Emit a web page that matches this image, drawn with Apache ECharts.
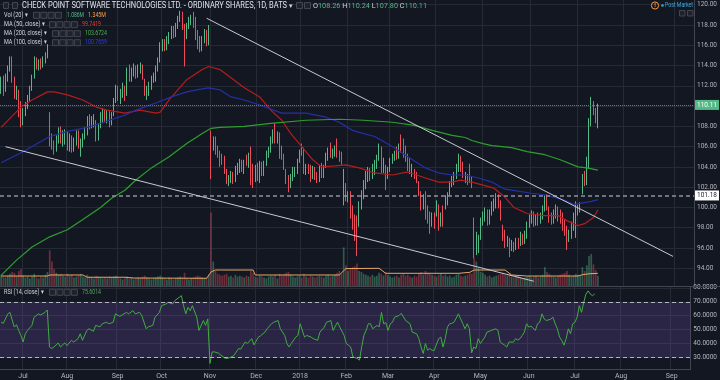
<!DOCTYPE html>
<html>
<head>
<meta charset="utf-8">
<script src="https://cdn.jsdelivr.net/npm/echarts@6/dist/echarts.min.js"></script>
<style>
html,body{margin:0;padding:0;background:#131722;overflow:hidden}
#chart{width:720px;height:380px}
</style>
</head>
<body>
<div id="chart"></div>
<script>
// ---------------- data ----------------
const firstSession = '2017-06-19';
const marketHolidays = ['2017-07-04','2017-09-04','2017-11-23','2017-12-25','2018-01-01','2018-01-15','2018-02-19','2018-03-30','2018-05-28','2018-07-04','2018-09-03'];
const slotCount = 314;

const opens = [
111.5,112.6,111.6,112.6,113.6,114.6,112.6,111.0,111.4,110.3,
108.4,109.3,110.0,110.7,111.7,112.9,114.5,113.8,114.4,114.0,
114.5,114.9,108.9,106.8,106.3,105.7,106.6,107.7,106.3,107.0,
107.2,105.9,106.8,105.9,106.4,107.3,105.4,106.2,107.0,107.4,
108.9,108.0,108.2,108.4,106.8,108.0,108.6,109.4,108.6,109.2,
108.4,109.2,110.5,111.8,110.5,111.0,111.8,111.2,113.8,112.7,
113.2,113.8,113.0,113.5,113.9,112.5,111.0,111.3,111.8,112.5,
112.6,113.6,114.5,115.7,116.3,115.7,116.4,116.8,117.6,117.0,
117.8,118.5,119.0,117.9,116.9,117.8,118.3,119.1,118.4,117.2,
116.7,115.6,116.5,117.3,116.2,107.0,105.9,106.8,105.8,105.4,
105.0,104.9,103.6,102.4,102.6,103.3,102.7,103.5,103.7,104.4,
103.6,104.9,104.2,105.7,104.0,102.7,104.1,102.7,104.2,103.4,
104.3,105.1,105.6,106.5,107.7,106.5,107.2,105.8,105.1,103.5,
103.0,102.2,102.9,103.2,103.6,104.6,106.0,105.7,103.5,104.0,
104.0,103.0,103.8,103.3,102.8,104.2,103.1,104.1,104.8,106.1,
105.1,105.3,105.9,105.4,105.2,101.4,102.0,100.8,101.4,100.0,
99.0,99.0,98.4,100.0,101.0,102.0,102.7,103.6,103.0,103.4,
104.0,104.8,105.7,103.7,104.0,103.0,103.7,104.5,104.8,105.8,
105.0,106.5,106.6,105.9,105.0,104.7,103.2,103.5,103.3,102.4,
101.4,100.0,101.4,100.0,99.4,98.4,99.2,99.4,100.0,98.4,
100.0,100.0,100.5,101.4,102.2,102.5,103.0,103.7,104.8,104.2,
102.6,103.0,103.7,102.8,98.7,95.8,96.3,97.0,98.5,98.8,
99.5,98.5,99.4,99.8,100.1,101.0,100.4,98.0,97.5,96.3,
96.8,95.9,96.4,96.0,96.8,96.4,97.2,96.6,97.1,98.2,
98.6,99.4,98.4,99.2,98.6,99.0,99.8,101.0,99.9,99.3,
98.7,99.1,99.9,99.6,99.3,98.6,98.0,96.8,97.1,98.0,
97.2,99.4,99.7,101.5,103.4,102.4,104.0,108.3,110.1,109.6,
108.26];

const closes = [
112.5,111.4,112.6,113.6,114.6,112.6,111.0,111.6,109.2,108.2,
109.4,110.2,110.8,111.8,112.8,114.6,113.9,114.3,113.9,114.6,
115.0,115.8,106.5,106.0,105.6,106.8,107.6,106.5,107.3,107.4,
105.9,107.0,105.8,106.6,107.3,106.1,106.5,107.1,107.6,108.8,
108.0,108.7,108.9,106.8,108.0,109.2,109.5,108.7,109.3,108.2,
109.1,110.6,111.9,110.7,111.4,112.0,110.8,113.5,112.7,113.5,
113.9,113.0,113.8,114.0,112.8,111.3,111.8,112.2,112.7,113.0,
113.8,114.6,116.0,116.3,115.7,116.6,117.0,117.6,117.0,117.9,
118.6,119.2,117.8,116.8,117.9,118.5,118.8,118.0,116.8,115.9,
115.6,116.6,117.4,116.2,117.6,103.2,106.8,105.5,105.2,104.3,
104.5,103.6,102.6,103.0,103.3,102.6,103.9,104.2,104.5,103.8,
104.4,104.4,105.1,103.8,102.2,103.9,102.9,104.3,103.4,104.3,
105.3,105.8,106.7,107.4,106.6,107.2,105.1,105.0,104.0,102.6,
102.0,103.0,103.8,103.7,104.6,105.4,105.4,103.6,104.0,103.6,
102.8,103.8,103.0,102.7,104.0,103.2,104.0,105.2,105.6,105.2,
105.5,105.9,105.1,104.8,104.5,103.5,101.0,101.3,99.2,98.1,
97.7,97.7,100.3,101.4,102.4,103.4,103.7,102.9,104.0,104.4,
105.0,106.0,103.7,104.6,103.0,103.8,104.7,105.0,105.4,105.0,
106.0,105.7,105.2,104.8,103.9,103.6,104.0,103.0,102.7,101.4,
100.0,101.0,99.1,98.7,98.3,99.2,98.2,100.4,98.0,99.2,
98.4,101.0,101.2,102.4,102.9,103.2,104.0,104.9,103.8,103.2,
103.2,102.5,102.7,102.2,95.6,97.2,96.9,98.8,99.3,99.8,
98.5,99.5,100.4,100.6,101.2,100.2,99.0,97.0,96.3,96.9,
95.8,96.5,95.9,96.8,96.1,97.4,96.5,97.4,98.4,99.0,
99.4,98.4,99.0,98.5,99.2,99.9,101.0,100.0,98.8,98.6,
99.5,100.0,98.9,98.7,98.0,97.5,96.6,97.5,98.4,99.2,
100.3,100.0,100.2,103.0,102.4,104.7,108.5,110.6,109.4,108.5,
110.11];

const lows = [
111.2,111.0,111.4,112.4,113.4,112.3,110.7,110.6,108.9,107.9,
108.1,109.0,109.7,110.5,111.5,112.7,113.6,113.5,113.6,113.8,
114.2,114.7,106.0,105.7,105.2,105.5,106.3,106.3,106.0,106.2,
105.6,105.5,105.4,105.5,106.1,105.8,105.0,105.9,106.7,107.1,
107.7,107.8,107.9,106.5,106.6,107.8,108.3,108.4,108.3,107.9,
108.1,109.0,110.3,110.5,110.2,110.8,110.5,111.0,112.4,112.4,
112.9,112.7,112.8,113.2,112.6,111.0,110.6,111.0,111.6,112.3,
112.4,113.4,114.3,115.4,115.4,115.5,116.1,116.6,116.7,116.8,
117.6,118.3,117.5,113.9,116.6,117.6,118.0,117.7,116.5,115.6,
115.3,115.4,116.2,115.9,116.0,102.8,105.6,105.2,104.9,104.0,
104.2,103.3,102.3,102.1,102.4,102.3,102.5,103.2,103.4,103.5,
103.3,104.1,103.9,102.2,101.9,102.5,102.6,102.4,103.1,103.1,
104.1,104.9,105.4,106.3,106.3,106.3,104.8,104.7,103.7,102.3,
101.5,101.9,102.6,103.0,103.3,104.4,105.1,103.3,103.2,103.3,
102.5,102.8,102.7,102.4,102.5,102.9,102.9,103.9,104.6,104.9,
104.8,105.0,104.9,104.5,104.2,100.2,100.6,100.5,98.9,97.8,
96.7,95.2,98.1,99.8,100.8,101.8,102.5,102.6,102.8,103.2,
103.8,104.6,103.4,103.4,101.7,102.8,103.5,104.3,104.6,104.7,
104.8,105.4,104.9,104.5,103.6,103.3,103.0,102.8,102.4,101.1,
99.7,99.8,98.8,98.4,97.4,98.1,97.9,99.1,97.7,98.1,
98.1,99.8,100.2,101.2,102.0,102.2,102.8,103.5,103.5,102.9,
102.4,102.2,102.4,101.9,95.0,95.3,95.5,96.8,98.2,98.6,
98.2,98.3,99.2,99.6,99.9,99.9,98.7,96.7,96.0,96.1,
95.1,95.7,95.6,95.8,95.9,96.2,96.3,96.4,96.9,98.0,
98.4,98.1,98.2,98.2,98.4,98.8,99.6,99.7,98.5,98.3,
98.4,98.9,98.6,98.4,97.7,97.2,95.8,96.6,96.9,97.7,
97.0,99.2,99.5,101.3,102.1,102.2,103.8,108.0,109.1,108.3,
107.80];

const highs = [
112.9,113.0,113.2,114.0,114.9,114.9,112.9,112.0,111.6,110.5,
109.8,110.4,111.1,112.0,113.1,114.9,114.8,114.6,114.7,114.9,
115.3,116.1,109.4,107.3,106.6,107.1,107.9,108.0,107.6,107.7,
107.5,107.3,107.1,106.9,107.6,107.6,106.8,107.3,107.9,109.0,
109.2,109.0,109.2,108.6,108.3,109.4,109.8,109.7,109.6,109.5,
109.4,110.8,112.1,112.0,111.7,112.3,112.0,113.8,114.1,113.8,
114.2,114.0,114.1,114.3,114.1,112.7,112.0,112.4,113.0,113.3,
114.0,114.8,116.3,116.6,116.6,116.9,117.3,117.9,117.9,118.2,
118.9,119.4,119.3,118.1,118.2,118.8,119.0,119.3,118.8,117.5,
116.9,116.9,117.6,117.5,118.0,107.6,107.0,107.0,106.1,105.6,
105.3,105.1,103.8,103.2,103.6,103.5,104.1,104.4,104.8,104.7,
104.7,105.2,105.4,106.0,104.3,104.2,104.4,104.6,104.5,104.6,
105.6,106.0,107.0,107.7,108.3,107.5,107.4,106.1,105.3,103.8,
103.2,103.3,104.0,104.0,104.8,105.7,106.3,105.9,104.3,104.3,
104.2,104.1,104.0,103.5,104.2,104.4,104.2,105.4,105.9,106.4,
105.8,106.1,106.8,105.6,105.5,103.8,102.4,101.6,101.6,100.2,
99.3,99.2,100.6,101.7,102.7,103.6,104.0,103.9,104.3,104.7,
105.2,106.3,106.0,104.9,104.2,104.0,104.9,105.3,105.6,106.0,
106.3,107.2,106.8,106.1,105.3,104.9,104.3,103.8,103.5,102.6,
101.6,101.3,101.6,100.2,99.6,99.5,99.5,100.7,100.3,99.5,
100.2,101.2,101.5,102.6,103.1,103.5,104.3,105.3,105.1,104.5,
103.5,103.3,104.3,103.0,99.0,97.6,97.3,99.0,99.6,100.0,
99.8,99.8,100.6,100.9,101.4,101.3,100.7,98.3,97.8,97.2,
97.0,96.8,96.6,97.0,97.0,97.6,97.4,97.7,98.6,99.3,
99.7,99.6,99.3,99.5,99.5,100.2,101.2,101.3,100.1,99.5,
99.8,100.3,100.1,99.8,99.5,98.8,98.2,97.8,98.6,99.5,
100.6,100.3,100.5,103.3,103.6,105.0,108.8,110.9,110.5,109.8,
110.24];

// volume in millions of shares
const volumes = [
1.2,1.0,0.9,1.1,1.3,1.5,1.4,1.0,1.6,1.8,
1.1,0.9,1.0,0.8,1.0,1.3,0.9,0.8,1.0,0.9,
1.2,1.5,3.8,2.6,1.8,1.4,1.2,1.3,1.1,1.0,
1.3,1.1,1.2,0.9,1.0,1.1,1.3,1.0,0.9,1.2,
1.0,0.9,0.8,1.1,1.0,0.9,0.8,0.9,0.8,1.0,
0.9,1.0,1.1,0.9,0.8,0.7,0.9,1.0,0.8,0.9,
0.7,0.8,0.9,0.8,1.0,1.1,0.9,0.8,0.7,0.8,
0.9,1.0,1.1,0.9,0.8,0.7,0.9,0.8,0.7,0.8,
0.9,1.0,0.9,1.4,0.8,0.7,0.8,0.9,1.0,1.1,
1.0,0.9,0.8,0.9,1.2,7.8,2.6,1.6,1.3,1.2,
1.1,1.2,1.3,1.0,1.1,0.9,1.2,1.0,1.1,1.0,
0.9,1.1,1.0,1.6,1.4,1.0,0.9,1.1,1.0,0.9,
0.8,1.0,1.1,1.0,1.2,0.8,1.3,1.1,1.2,1.4,
1.5,1.2,1.0,0.9,1.0,1.1,0.9,1.3,1.0,0.9,
1.1,1.0,0.9,1.0,1.1,1.0,0.9,1.1,1.2,1.0,
1.1,1.2,1.4,1.6,1.3,4.1,2.2,1.6,1.9,2.0,
2.1,2.4,1.6,1.5,1.3,1.2,1.1,1.0,1.2,1.0,
1.1,1.4,1.3,1.1,1.5,1.2,1.0,0.9,1.0,1.1,
0.9,1.2,1.3,1.1,1.2,1.0,0.9,1.1,1.0,1.3,
1.5,1.2,1.6,1.4,1.3,1.2,1.1,1.0,1.2,1.3,
1.1,1.2,1.0,1.1,0.9,1.0,1.2,1.3,1.1,1.0,
1.1,1.2,1.4,1.3,3.0,2.6,1.9,1.5,1.4,1.2,
1.0,1.1,0.9,1.0,1.1,1.2,1.3,1.4,1.2,1.1,
1.3,1.0,0.9,1.0,1.1,0.9,0.8,0.9,1.0,1.1,
0.9,1.0,1.1,0.9,1.0,1.2,2.0,1.5,1.3,1.1,
1.0,0.9,1.1,1.2,1.3,1.4,1.6,1.2,1.0,1.1,
1.3,1.2,1.1,2.0,1.6,2.2,3.2,3.4,2.3,1.7,
1.086];

// [bar index, value]
const volumeAvg20 = [[0,1.06],[21,1.06],[22,1.17],[37,1.17],[39,0.93],[56,0.93],[60,0.85],[93,0.82],[95,1.5],[97,1.7],[114,1.7],[115,1.17],[153,1.17],[156,1.85],[171,1.88],[174,1.35],[207,1.35],[212,1.45],[214,1.7],[228,1.7],[231,1.17],[238,1.06],[261,1.06],[263,1.2],[266,1.3],[270,1.345]];

const ma50 = [[0,107.9],[9,109.9],[14,110.6],[21,111.4],[24,111.4],[30,111.1],[37,110.6],[43,109.9],[48,109.6],[56,109.3],[63,109.6],[70,109.3],[72,109.4],[76,110.6],[84,112.6],[91,113.6],[94,113.9],[99,113.6],[104,112.8],[110,111.8],[117,110.9],[122,109.6],[127,108.6],[131,107.3],[136,106.0],[141,104.7],[145,104.0],[151,104.1],[156,104.2],[162,103.9],[169,103.4],[177,103.2],[184,103.5],[192,102.9],[198,102.5],[204,102.5],[208,102.7],[213,102.5],[218,102.2],[223,101.9],[228,101.0],[232,100.0],[238,99.4],[246,99.2],[252,99.2],[256,98.7],[261,98.2],[264,98.4],[268,99.0],[270,99.7419]];

const ma100 = [[0,104.4],[9,105.4],[14,106.0],[22,107.0],[30,107.5],[39,107.9],[45,108.3],[56,109.1],[61,109.6],[70,110.3],[77,110.9],[84,111.4],[91,111.7],[94,111.8],[99,111.6],[104,110.9],[110,110.6],[117,110.1],[127,109.3],[138,109.3],[147,108.9],[153,108.4],[159,107.6],[162,107.4],[169,107.0],[177,106.0],[184,105.0],[192,103.9],[198,103.4],[204,103.2],[210,103.2],[216,102.9],[222,102.5],[228,101.8],[240,101.4],[247,101.2],[255,100.7],[259,100.3],[262,100.4],[267,100.6],[270,100.7659]];

const ma200 = [[0,93.3],[7,94.8],[14,96.1],[22,97.1],[30,97.8],[37,98.8],[45,100.0],[50,100.9],[56,101.7],[61,102.7],[68,103.9],[76,105.0],[84,106.3],[91,107.3],[95,107.8],[99,107.9],[110,108.0],[122,108.3],[138,108.6],[153,108.7],[164,108.6],[177,108.4],[187,108.1],[195,107.6],[204,107.1],[210,106.9],[213,106.6],[218,106.3],[222,106.1],[231,105.9],[238,105.5],[246,105.2],[253,104.7],[261,104.0],[265,103.9],[270,103.6724]];

const rsi14 = [[0,55.3],[1,54.5],[3,61.2],[4,62.4],[6,51.8],[7,53.5],[8,49.4],[9,45.8],[10,41.1],[11,47.0],[12,49.4],[14,53.0],[15,58.9],[17,61.3],[18,60.5],[20,62.4],[21,64.1],[22,37.5],[23,36.4],[24,37.5],[26,40.4],[27,37.5],[29,40.5],[30,38.5],[32,42.3],[33,41.0],[35,43.5],[36,47.0],[37,42.3],[39,49.4],[40,50.6],[42,48.8],[43,53.0],[45,52.0],[46,54.2],[48,55.3],[49,54.2],[51,55.3],[52,61.3],[54,59.5],[55,60.5],[57,62.4],[58,61.3],[60,63.6],[61,61.3],[63,62.4],[64,60.0],[66,50.6],[67,52.0],[69,53.0],[70,58.9],[72,62.4],[73,67.2],[75,68.4],[76,69.6],[78,68.4],[79,70.8],[81,73.2],[82,74.4],[83,67.2],[84,61.3],[85,66.0],[86,63.6],[87,67.2],[89,58.9],[90,49.4],[92,56.5],[93,53.0],[94,57.7],[95,25.7],[96,34.0],[97,34.0],[99,33.0],[100,31.6],[102,29.3],[103,29.3],[105,30.5],[106,31.6],[108,36.4],[109,36.0],[111,41.1],[112,40.0],[114,43.5],[115,39.0],[117,44.6],[118,45.5],[120,48.2],[121,50.6],[123,54.2],[124,55.3],[126,56.5],[127,50.6],[129,45.8],[130,40.0],[131,37.5],[132,40.0],[134,44.6],[135,45.8],[136,54.2],[138,44.6],[139,45.8],[141,44.6],[142,43.5],[144,42.3],[145,48.2],[147,51.8],[148,55.3],[150,56.5],[151,49.4],[153,55.3],[154,52.0],[156,45.8],[157,40.0],[159,37.5],[160,30.4],[162,29.3],[163,28.1],[164,37.5],[165,45.8],[166,49.4],[167,54.2],[168,54.2],[169,50.6],[171,53.0],[172,52.0],[173,62.4],[174,54.2],[175,55.0],[176,49.4],[177,54.2],[178,55.3],[179,58.9],[181,60.1],[182,61.7],[184,56.5],[186,54.2],[187,48.2],[189,47.0],[190,43.5],[191,37.5],[192,32.8],[193,40.0],[194,35.2],[195,36.4],[196,35.2],[197,35.0],[199,43.5],[200,44.6],[201,37.5],[202,43.5],[203,51.8],[204,54.2],[205,54.5],[206,55.3],[208,61.3],[209,57.7],[210,54.2],[211,50.6],[212,54.2],[213,50.6],[214,33.3],[215,37.5],[216,36.4],[217,43.5],[218,40.0],[220,44.6],[221,48.2],[223,49.4],[225,50.6],[226,49.4],[227,41.1],[229,38.8],[230,37.5],[231,41.1],[233,41.0],[234,43.5],[235,42.5],[236,43.5],[237,45.8],[238,48.2],[239,54.2],[240,51.8],[241,52.5],[243,49.4],[244,54.2],[245,55.3],[246,61.3],[247,57.7],[248,56.5],[250,57.5],[251,58.9],[252,54.2],[253,50.6],[254,44.6],[255,42.3],[256,38.8],[257,43.5],[258,50.6],[259,47.0],[260,54.2],[261,55.3],[262,58.9],[263,67.2],[264,62.4],[265,69.6],[266,75.5],[267,77.8],[268,75.5],[269,74.4],[270,75.6014]];

const trendUpper = [[93,118.66],[304,95.17]];
const trendLower = [[2,105.99],[241,92.72]];
const keyLevel = 101.18;
const lastClose = 110.11;
const lastBar = { O:'108.26', H:'110.24', L:'107.80', C:'110.11' };
const priceTicks = [94,96,98,100,102,104,106,108,110,112,114,116,118,120];
const rsiTicks = [30,40,50,60,70,80];
const monthNames = ['Jan','Feb','Mar','Apr','May','Jun','Jul','Aug','Sep','Oct','Nov','Dec'];

// ---------------- categories (trading sessions) ----------------
const sessions = [];
(function(){
  const d = new Date(firstSession + 'T00:00:00Z');
  while (sessions.length < slotCount) {
    const wd = d.getUTCDay();
    const s = d.toISOString().slice(0,10);
    if (wd !== 0 && wd !== 6 && marketHolidays.indexOf(s) < 0) sessions.push(s);
    d.setUTCDate(d.getUTCDate() + 1);
  }
})();
const monthStart = sessions.map((s,i) => i > 0 && s.slice(5,7) !== sessions[i-1].slice(5,7));
const isMonthStart = (idx) => monthStart[idx];
const monthLabel = (val) => {
  const m = +val.slice(5,7);
  return m === 1 ? val.slice(0,4) : monthNames[m-1];
};

// ---------------- styling ----------------
const UP = '#53b987', DOWN = '#eb4d5c';
const BG = '#131722', GRIDC = '#262a35', AXT = '#b2b5be', TXT = '#d1d4dc';
const FONT = 'Roboto';

const candleData = opens.map((o,i) => [o, closes[i], lows[i], highs[i]]);
const volData = volumes.map((v,i) => ({
  value: v,
  itemStyle: { color: closes[i] >= opens[i] ? 'rgba(83,185,135,0.42)' : 'rgba(235,77,92,0.42)' }
}));

// ---------------- header / legend graphics ----------------
const mctx = document.createElement('canvas').getContext('2d');
function txt(x, y, s, color, size, w, weight) {
  const font = (weight || 'normal') + ' ' + size + 'px ' + FONT;
  let sx = 1;
  if (w) { mctx.font = font; sx = w / mctx.measureText(s).width; }
  return { type:'text', x:x, y:y, scaleX:sx, z:100, silent:true,
    style:{ text:s, fill:color, font:font, verticalAlign:'middle', align:'left' } };
}
function box(x, y, w, h) {
  return { type:'rect', z:100, silent:true, shape:{x:x, y:y, width:w, height:h},
    style:{ fill:'#1e222d', stroke:'#434651', lineWidth:1 } };
}
const g = [];
// pane separator
g.push({type:'line', z:50, silent:true, shape:{x1:0,y1:286.5,x2:720,y2:286.5}, style:{stroke:'#434651', lineWidth:1}});
// title row
g.push(box(3.5,2.5,5,6));
g.push(box(12.5,2.5,5,6));
g.push(txt(22, 6, 'CHECK POINT SOFTWARE TECHNOLOGIES LTD. - ORDINARY SHARES, 1D, BATS', '#e0e3eb', 8.5, 265));
g.push(txt(289, 6, '▾', TXT, 7));
g.push(box(296.5,2.5,6,6)); g.push(box(304.5,2.5,6,6));
// OHLC readout as one rich string fitted into its measured span
(function(){
  const size = 8;
  const font = size + 'px ' + FONT;
  const plain = 'O' + lastBar.O + ' H' + lastBar.H + ' L' + lastBar.L + ' C' + lastBar.C;
  mctx.font = font;
  const sx = 114 / mctx.measureText(plain).width;
  const rich = '{l|O}{v|' + lastBar.O + '} {l|H}{v|' + lastBar.H + '} {l|L}{v|' + lastBar.L + '} {l|C}{v|' + lastBar.C + '}';
  g.push({ type:'text', x:313, y:6, scaleX:sx, z:100, silent:true,
    style:{ text:rich, font:font, fill:TXT, verticalAlign:'middle', align:'left',
      rich:{ l:{fill:TXT, font:font}, v:{fill:UP, font:font} } } });
})();
// indicator legends
const legendRows = [
  {y:15.3, label:'Vol (20) ▾', lw:24, bx:33, vals:[['1.086M', UP, 67, 17], ['1.345M', '#ff9f40', 88, 18]]},
  {y:24.7, label:'MA (50, close) ▾', lw:41, bx:49, vals:[['99.7419', '#e53935', 82, 19]]},
  {y:33.7, label:'MA (200, close) ▾', lw:43, bx:52, vals:[['103.6724', '#4caf50', 85, 22]]},
  {y:42.7, label:'MA (100, close) ▾', lw:43, bx:52, vals:[['100.7659', '#2d3fe0', 85, 22]]},
  {y:292.3, label:'RSI (14, close) ▾', lw:40, bx:49, vals:[['75.6014', '#4caf50', 82, 19]]}
];
legendRows.forEach(r => {
  g.push(txt(4, r.y, r.label, TXT, 7, r.lw));
  for (let k = 0; k < 4; k++) g.push(box(r.bx + k*7.3 + 0.5, r.y - 3, 6, 6));
  r.vals.forEach(v => g.push(txt(v[2], r.y, v[0], v[1], 7, v[3])));
});
// post market badge
g.push({type:'circle', z:100, silent:true, shape:{cx:655, cy:5.5, r:3.6}, style:{fill:'none', stroke:'#f89b3c', lineWidth:1}});
g.push(txt(654.2, 5.8, '!', '#f89b3c', 6, null, 'bold'));
g.push({type:'circle', z:100, silent:true, shape:{cx:662.5, cy:5.5, r:1.3}, style:{fill:'#3ba7d9'}});
g.push(txt(665, 5.8, 'Post Market', '#3ba7d9', 6.5, 28));
g.push(box(679.5,10.5,5.5,5.5)); g.push(box(687.5,10.5,5.5,5.5));

// ---------------- chart ----------------
const chart = echarts.init(document.getElementById('chart'), null, {renderer:'canvas'});
const lineBase = { type:'line', symbol:'none', silent:true, animation:false, smooth:false };
chart.setOption({
  backgroundColor: BG,
  animation: false,
  textStyle: { fontFamily: FONT },
  grid: [
    { left:0, right:23, top:0, height:286 },
    { left:0, right:23, top:287, height:82 }
  ],
  xAxis: [
    { type:'category', gridIndex:0, data:sessions, boundaryGap:true,
      axisLine:{show:false}, axisTick:{show:false}, axisLabel:{show:false},
      splitLine:{show:true, interval:isMonthStart, lineStyle:{color:GRIDC, width:1}} },
    { type:'category', gridIndex:1, data:sessions, boundaryGap:true,
      axisLine:{show:true, lineStyle:{color:'#434651'}}, axisTick:{show:false},
      axisLabel:{show:true, interval:isMonthStart, formatter:monthLabel, color:AXT, fontSize:7, margin:4, fontFamily:FONT},
      splitLine:{show:true, interval:isMonthStart, lineStyle:{color:GRIDC, width:1}} }
  ],
  yAxis: [
    { type:'value', gridIndex:0, position:'right', min:92.25, max:120.46, scale:true,
      axisLine:{show:true, lineStyle:{color:'#434651'}},
      axisTick:{show:false, customValues:priceTicks},
      axisLabel:{customValues:priceTicks, formatter:v => v.toFixed(2), color:AXT, fontSize:6.5, margin:3, fontFamily:FONT},
      splitLine:{show:true, lineStyle:{color:GRIDC}} },
    { type:'value', gridIndex:0, min:0, max:30.4, show:false, splitLine:{show:false} },
    { type:'value', gridIndex:1, position:'right', min:21.7, max:80.6, scale:true,
      axisLine:{show:true, lineStyle:{color:'#434651'}},
      axisTick:{show:false, customValues:rsiTicks},
      axisLabel:{customValues:rsiTicks, formatter:v => v.toFixed(4), color:AXT, fontSize:6.5, margin:3, fontFamily:FONT},
      splitLine:{show:true, lineStyle:{color:GRIDC}} }
  ],
  series: [
    { type:'bar', name:'Volume', xAxisIndex:0, yAxisIndex:1, data:volData, barWidth:1.7, silent:true, z:1 },
    Object.assign({}, lineBase, { name:'VolMA', xAxisIndex:0, yAxisIndex:1, data:volumeAvg20, z:2,
      lineStyle:{color:'#e8a865', width:1} }),
    { type:'candlestick', name:'CHKP', xAxisIndex:0, yAxisIndex:0, data:candleData, barWidth:1.1, z:3, silent:true,
      itemStyle:{ color:UP, color0:DOWN, borderColor:UP, borderColor0:DOWN, borderWidth:1 },
      markLine:{ silent:true, symbol:'none', animation:false, data:[
        { yAxis:keyLevel, lineStyle:{type:[4,3], color:'#8f929c', width:1.6},
          label:{show:true, position:'end', distance:1, formatter:keyLevel.toFixed(2), color:'#131722',
            backgroundColor:'#ffffff', padding:[2,2,1,2], fontSize:6.5, fontFamily:FONT} },
        { yAxis:lastClose, lineStyle:{type:'dotted', color:'#3d8f73', width:1},
          label:{show:true, position:'end', distance:1, formatter:lastClose.toFixed(2), color:'#ffffff',
            backgroundColor:UP, padding:[2,2,1,2], fontSize:6.5, fontFamily:FONT} }
      ] } },
    Object.assign({}, lineBase, { name:'MA50', xAxisIndex:0, yAxisIndex:0, data:ma50, z:4, lineStyle:{color:'#b71c1c', width:1.2} }),
    Object.assign({}, lineBase, { name:'MA100', xAxisIndex:0, yAxisIndex:0, data:ma100, z:4, lineStyle:{color:'#2430a6', width:1.2} }),
    Object.assign({}, lineBase, { name:'MA200', xAxisIndex:0, yAxisIndex:0, data:ma200, z:4, lineStyle:{color:'#2e9e2e', width:1.2} }),
    Object.assign({}, lineBase, { name:'TrendUpper', xAxisIndex:0, yAxisIndex:0, data:trendUpper, z:5, lineStyle:{color:'#c8cad0', width:1} }),
    Object.assign({}, lineBase, { name:'TrendLower', xAxisIndex:0, yAxisIndex:0, data:trendLower, z:5, lineStyle:{color:'#c8cad0', width:1} }),
    Object.assign({}, lineBase, { name:'RSI', xAxisIndex:1, yAxisIndex:2, data:rsi14, z:4,
      lineStyle:{color:'#3fae3f', width:1},
      markArea:{ silent:true, itemStyle:{color:'rgba(126,87,194,0.22)'}, data:[[{yAxis:30},{yAxis:70}]] },
      markLine:{ silent:true, symbol:'none', animation:false, label:{show:false},
        lineStyle:{type:[4,3], color:'#b2b5be', width:1}, data:[{yAxis:70},{yAxis:30}] } })
  ],
  graphic: g
});
</script>
</body>
</html>
